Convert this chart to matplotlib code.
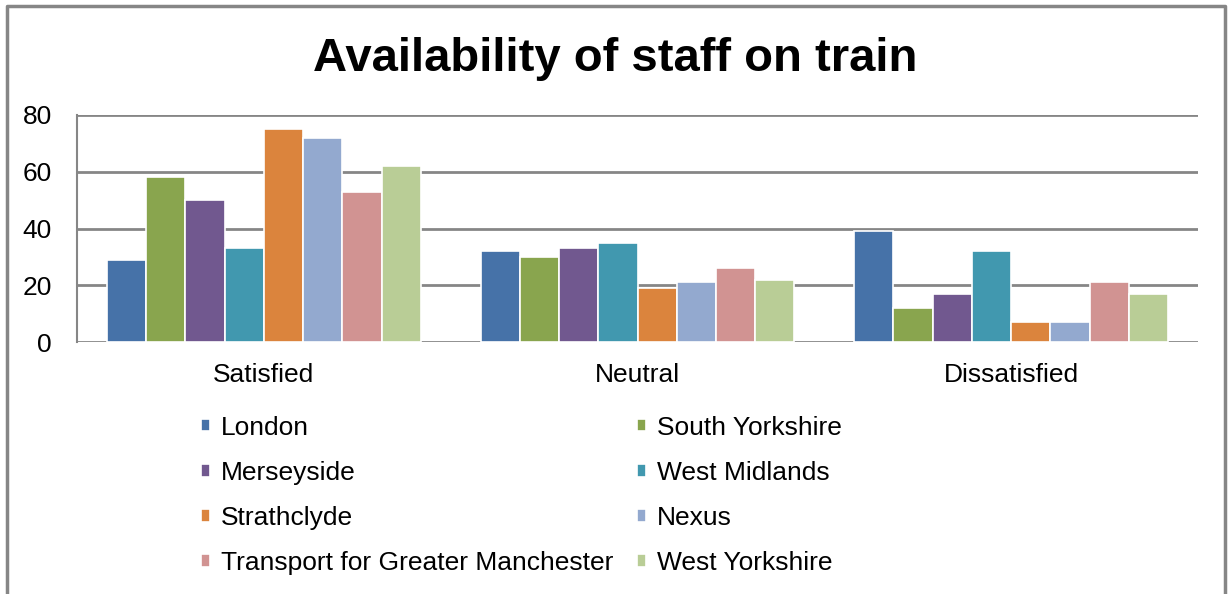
import matplotlib
matplotlib.use("Agg")
import matplotlib.pyplot as plt
import numpy as np

plt.rcParams['font.family'] = ['Liberation Sans', 'DejaVu Sans']

categories = ["Satisfied", "Neutral", "Dissatisfied"]
regions = ["London", "South Yorkshire", "Merseyside", "West Midlands",
           "Strathclyde", "Nexus", "Transport for Greater Manchester",
           "West Yorkshire"]
london = [29, 32, 39]
south_yorkshire = [58, 30, 12]
merseyside = [50, 33, 17]
west_midlands = [33, 35, 32]
strathclyde = [75, 19, 7]
nexus = [72, 21, 7]
tfgm = [53, 26, 21]
west_yorkshire = [62, 22, 17]
series = [london, south_yorkshire, merseyside, west_midlands,
          strathclyde, nexus, tfgm, west_yorkshire]
colors = ["#4672a8", "#89a54e", "#71588f", "#4198af",
          "#db843d", "#93a9cf", "#d19392", "#b9cd96"]

fig = plt.figure(figsize=(12.28, 5.94), dpi=100)
ax = fig.add_axes((0.0627, 0.4242, 0.9129, 0.3822))

# outer chart border (top, left, right)
fig.add_artist(plt.Line2D([0.0057, 0.0057, 0.9976, 0.9976],
                          [0.0, 0.9894, 0.9894, 0.0],
                          transform=fig.transFigure, color="#868686", lw=2.5))

x = np.arange(len(categories))
bw = 0.105
handles = []
for i, (vals, name, c) in enumerate(zip(series, regions, colors)):
    b = ax.bar(x + (i - 3.5) * bw, vals, bw, color=c, edgecolor="white",
               linewidth=1.2, label=name, zorder=3)
    handles.append(b)

ax.set_xlim(-0.5, 2.5)
ax.set_ylim(0, 80)
ax.set_yticks([0, 20, 40, 60, 80])
ax.yaxis.grid(True, color="#868686", linewidth=2)
ax.set_axisbelow(True)
for s in ["top", "right", "bottom"]:
    ax.spines[s].set_visible(False)
ax.spines["left"].set_color("#868686")
ax.spines["left"].set_linewidth(1.5)
ax.tick_params(axis="both", length=0, labelsize=19)
ax.tick_params(axis="y", pad=18)
ax.tick_params(axis="x", pad=15)
ax.set_xticks(x)
ax.set_xticklabels(categories)

fig.text(0.501, 0.9, "Availability of staff on train", ha="center",
         va="center", fontsize=34, fontweight="bold")

# legend is filled row by row, two columns
order = [0, 2, 4, 6, 1, 3, 5, 7]
leg = fig.legend([handles[k] for k in order], [regions[k] for k in order],
                 loc="upper left", bbox_to_anchor=(0.155, 0.318), ncol=2,
                 frameon=False, fontsize=19, handlelength=0.35,
                 handleheight=0.35, handletextpad=0.4, columnspacing=0.9,
                 labelspacing=0.8, borderaxespad=0)

fig.savefig("out.png", dpi=100)
